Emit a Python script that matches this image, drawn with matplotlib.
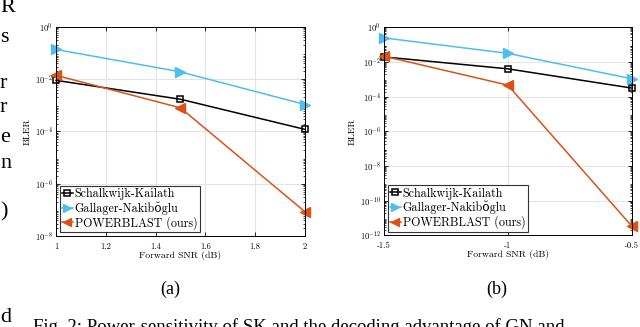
import matplotlib
matplotlib.use("Agg")
import matplotlib.pyplot as plt
from matplotlib.ticker import LogLocator, NullFormatter

plt.rcParams['font.family'] = ['cmr10', 'DejaVu Serif']
plt.rcParams['mathtext.fontset'] = 'cm'
plt.rcParams['axes.unicode_minus'] = False
plt.rcParams['axes.formatter.use_mathtext'] = True

# Data
labels = ["Schalkwijk-Kailath", "Gallager-Nakibŏglu", "POWERBLAST (ours)"]

snr_a = [1.0, 1.5, 2.0]
sk_a = [9.0e-3, 1.7e-3, 1.2e-4]
gn_a = [1.36e-1, 1.9e-2, 1.07e-3]
pb_a = [1.4e-2, 8.0e-4, 8.5e-8]

snr_b = [-1.5, -1.0, -0.5]
sk_b = [2.0e-2, 4.1e-3, 3.2e-4]
gn_b = [2.5e-1, 3.2e-2, 1.1e-3]
pb_b = [2.2e-2, 4.7e-4, 3.5e-12]

xticks_a = [1, 1.2, 1.4, 1.6, 1.8, 2]
xticklabels_a = ["1", "1.2", "1.4", "1.6", "1.8", "2"]
yticks_a = [1e-8, 1e-6, 1e-4, 1e-2, 1e0]

xticks_b = [-1.5, -1, -0.5]
xticklabels_b = ["-1.5", "-1", "-0.5"]
yticks_b = [1e-12, 1e-10, 1e-8, 1e-6, 1e-4, 1e-2, 1e0]

blue = '#4DBEEE'
orange = '#D95319'

fig = plt.figure(figsize=(6.4, 3.27), dpi=100)
ax1 = fig.add_axes([0.0875, 0.278, 0.389, 0.640])
ax2 = fig.add_axes([0.600, 0.280, 0.387, 0.636])


def draw(ax, x, sk, gn, pb, xticks, xticklabels, yticks, ylim):
    ax.semilogy(x, sk, '-s', color='black', lw=1.1, ms=4.5,
                mfc='none', mew=1.1, label=labels[0], clip_on=False)
    ax.semilogy(x, gn, '->', color=blue, lw=1.1, ms=6.5, label=labels[1],
                clip_on=False)
    ax.semilogy(x, pb, '-<', color=orange, lw=1.1, ms=6.5, label=labels[2],
                clip_on=False)
    ax.set_xlim(x[0], x[-1])
    ax.set_ylim(*ylim)
    ax.set_xticks(xticks)
    ax.set_xticklabels(xticklabels)
    ax.set_yticks(yticks)
    ax.yaxis.set_minor_locator(LogLocator(base=10, subs=range(2, 10), numticks=50))
    ax.yaxis.set_minor_formatter(NullFormatter())
    ax.grid(True, which='major', color='#e4e4e4', lw=0.8)
    ax.set_axisbelow(True)
    ax.tick_params(which='both', direction='in', top=True, right=True,
                   labelsize=6.2, pad=2)
    ax.tick_params(axis='x', pad=4.5)
    ax.tick_params(which='major', length=3, width=0.6)
    ax.tick_params(which='minor', length=1.5, width=0.5)
    for s in ax.spines.values():
        s.set_linewidth(0.7)
    ax.set_xlabel("Forward SNR (dB)", fontsize=7, labelpad=0)
    ax.set_ylabel("BLER", fontsize=7, labelpad=2)
    leg = ax.legend(loc='lower left', fontsize=8.7, frameon=True, fancybox=False,
                    framealpha=1, edgecolor='#333333', borderpad=0.2,
                    handlelength=0.9, handletextpad=0.15, labelspacing=0.1,
                    borderaxespad=0.3, markerscale=0.9)
    leg.get_frame().set_linewidth(0.8)


draw(ax1, snr_a, sk_a, gn_a, pb_a, xticks_a, xticklabels_a, yticks_a, (1e-8, 1e0))
draw(ax2, snr_b, sk_b, gn_b, pb_b, xticks_b, xticklabels_b, yticks_b, (1e-12, 1e0))

# sub-captions and surrounding page text
serif = 'Liberation Serif'
fig.text(170 / 640, 1 - 289 / 327, "(a)", fontsize=13, ha='center', va='center',
         family=serif)
fig.text(497 / 640, 1 - 289 / 327, "(b)", fontsize=13, ha='center', va='center',
         family=serif)
fig.text(33 / 640, 1 - 318 / 327,
         "Fig. 2: Power-sensitivity of SK and the decoding advantage of GN and",
         fontsize=13.5, ha='left', va='top', family=serif)
margin = [("R", 8), ("s", 38), ("r", 83), ("r", 108), ("e", 137), ("n", 163),
          (")", 212), ("d", 318)]
for ch, yy in margin:
    fig.text(0.0, 1 - yy / 327, ch, fontsize=16, ha='left', va='center',
             family=serif)

fig.savefig("out.png", dpi=100)
